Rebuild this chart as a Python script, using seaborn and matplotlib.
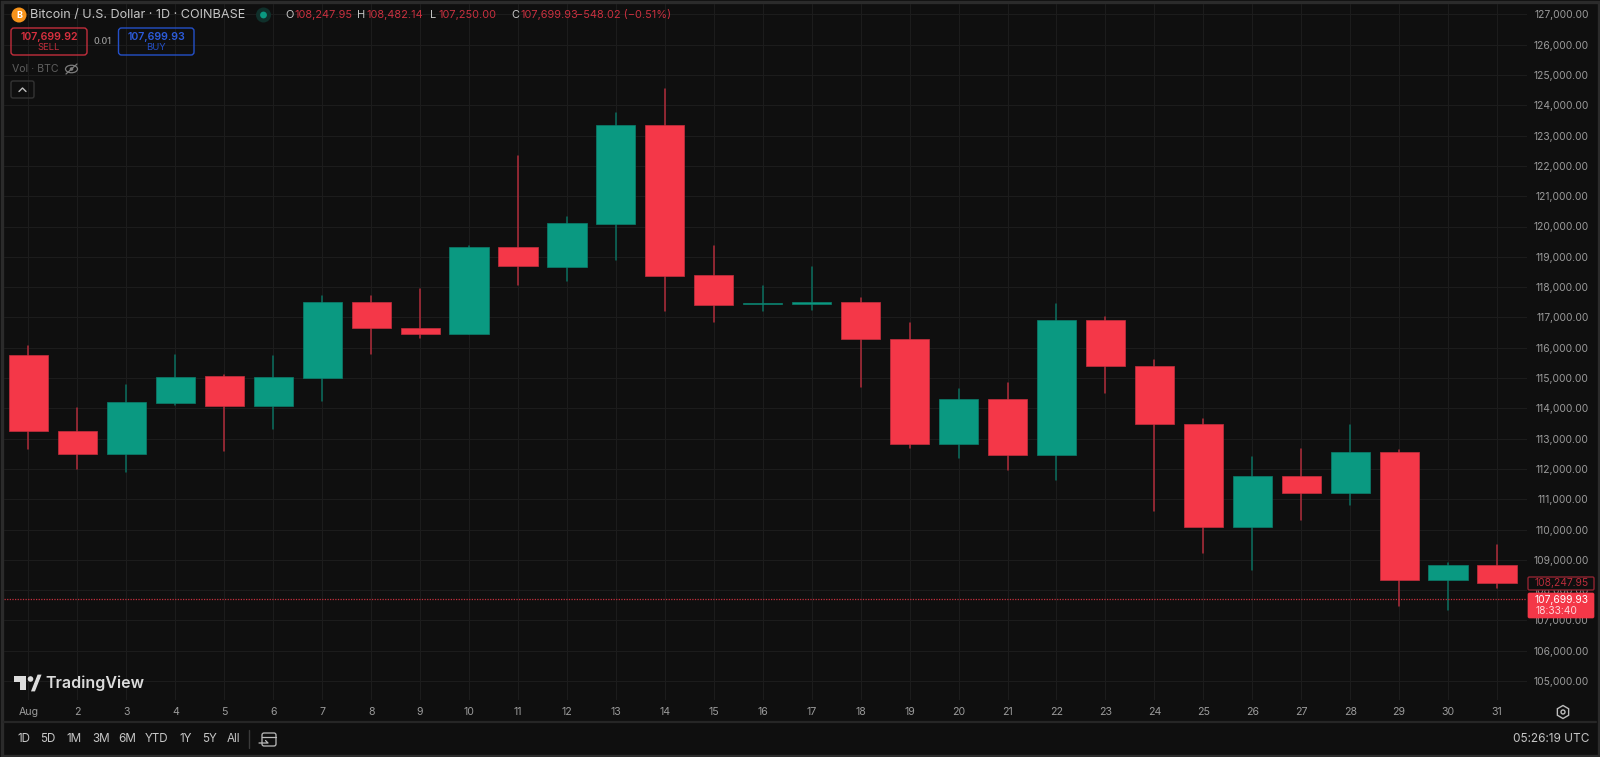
#!/usr/bin/env python3
"""BTC/USD daily candles, August, in a TradingView style dark layout."""

import matplotlib
matplotlib.use('Agg')
import matplotlib.pyplot as plt
from matplotlib.patches import Circle, Ellipse, FancyBboxPatch, Polygon, Rectangle, RegularPolygon
import pandas as pd
import seaborn as sns

# Chart data
days = list(range(1, 32))
opens = [115770, 113240, 112505, 114180, 115065, 114080, 115000, 117515, 116660, 116460, 119310,
         118675, 120090, 123365, 118395, 117430, 117440, 117505, 116295, 112835, 114295, 112475,
         116910, 115380, 113470, 110090, 111770, 111220, 112560, 108340, 108825]
closes = [113235, 112505, 114205, 115045, 114080, 115035, 117515, 116650, 116450, 119310, 118680,
          120120, 123365, 118365, 117405, 117470, 117500, 116290, 112835, 114295, 112475, 116910,
          115380, 113470, 110090, 111770, 111220, 112560, 108340, 108825, 108248]
highs = [116065, 114010, 114780, 115770, 115110, 115735, 117690, 117690, 117945, 119340, 122330,
         120330, 123745, 124540, 119340, 118035, 118650, 117650, 116815, 114650, 114835, 117440,
         117010, 115610, 113640, 112395, 112670, 113450, 112625, 108900, 109475]
lows = [112650, 111990, 111890, 114100, 112605, 113330, 114255, 115780, 116320, 116460, 118065,
        118185, 118910, 117210, 116845, 117210, 117240, 114715, 112700, 112365, 111965, 111650,
        114515, 110615, 109240, 108650, 110320, 110815, 107460, 107350, 108055]
price_ticks = list(range(105000, 128000, 1000))
day_labels = ['Aug'] + [str(d) for d in days[1:]]
range_buttons = ['1D', '5D', '1M', '3M', '6M', 'YTD', '1Y', '5Y', 'All']
range_button_x = [23.5, 48, 74, 101, 127.5, 157, 186, 210, 233.7]
last_price = 107699.93

# Colours
BG = '#0f0f0f'
GRID = '#1c1c1c'
FRAME = '#2b2b2b'
RED = '#f43748'
GREEN = '#0a9981'
RED_EDGE = '#c62f3e'
GREEN_EDGE = '#0b7f6c'
RED_WICK = '#b22c3b'
GREEN_WICK = '#0b6f5f'
TEXT = '#c6c6c6'
MUTED = '#9b9b9b'

# Pixel calibration of the plot area
AX_LEFT, AX_RIGHT, AX_TOP, AX_BOTTOM = 4, 1527, 4, 700
DAY1_X, DAY_W = 28.5, 48.95
P105_Y, PX_PER_K = 681.0, 30.3

sns.set_theme(style='dark')
plt.rcParams['font.family'] = ['Inter', 'DejaVu Sans']

fig = plt.figure(figsize=(16, 7.57), dpi=100, facecolor=BG)
ax = fig.add_axes([AX_LEFT / 1600, 1 - AX_BOTTOM / 757,
                   (AX_RIGHT - AX_LEFT) / 1600, (AX_BOTTOM - AX_TOP) / 757])
ax.set_facecolor(BG)

df = pd.DataFrame({'day': days, 'open': opens, 'close': closes, 'high': highs, 'low': lows})
df['dir'] = ['up' if c >= o else 'down' for o, c in zip(opens, closes)]

# Wicks
wicks = df.melt(id_vars=['day', 'dir'], value_vars=['low', 'high'], value_name='price')
sns.lineplot(data=wicks, x='day', y='price', hue='dir', units='day', estimator=None,
             palette={'up': GREEN_WICK, 'down': RED_WICK}, lw=1.1, legend=False, ax=ax, zorder=3)

# Bodies
for direction, colour, edge in [('up', GREEN, GREEN_EDGE), ('down', RED, RED_EDGE)]:
    sub = df[df['dir'] == direction]
    body_low = sub[['open', 'close']].min(axis=1)
    body_high = sub[['open', 'close']].max(axis=1)
    ax.bar(sub['day'], body_high - body_low, bottom=body_low, width=0.8, color=colour,
           edgecolor=edge, linewidth=0.5, zorder=4)

ax.axhline(last_price, color='#c62f3e', lw=0.9, ls=(0, (1, 1.1)), zorder=5)

ax.set_xlim(1 + (AX_LEFT - DAY1_X) / DAY_W, 1 + (AX_RIGHT - DAY1_X) / DAY_W)
ax.set_ylim(105000 + (P105_Y - AX_BOTTOM) / PX_PER_K * 1000, 105000 + (P105_Y - AX_TOP) / PX_PER_K * 1000)
ax.set_xlabel('')
ax.set_ylabel('')
ax.set_xticks(days)
ax.set_xticklabels(day_labels)
ax.yaxis.tick_right()
ax.set_yticks(price_ticks)
ax.set_yticklabels([f'{p:,.2f}' for p in price_ticks], ha='right')
ax.tick_params(axis='x', length=0, pad=5, labelsize=7.6, labelcolor=MUTED)
ax.tick_params(axis='y', length=0, pad=44.5, labelsize=7.4, labelcolor=MUTED)
ax.grid(True, color=GRID, lw=0.8)
ax.set_axisbelow(True)
sns.despine(ax=ax, left=True, bottom=True, right=True, top=True)

# Everything around the chart is drawn in an overlay with pixel coordinates
ui = fig.add_axes([0, 0, 1, 1], zorder=10)
ui.set_xlim(0, 1600)
ui.set_ylim(757, 0)
ui.axis('off')
ui.patch.set_alpha(0)


def label(x, y, s, color=MUTED, size=8, ha='left', weight='normal'):
    ui.text(x, y, s, color=color, fontsize=size, ha=ha, va='center', fontweight=weight)


def box(x0, y0, x1, y1, edge, face='none', lw=1.0, radius=3):
    ui.add_patch(FancyBboxPatch((x0, y0), x1 - x0, y1 - y0,
                                boxstyle=f'round,pad=0,rounding_size={radius}',
                                fc=face, ec=edge, lw=lw))


# Outer frame and toolbar line
ui.add_patch(Rectangle((1.5, 1.5), 1597, 754, fc='none', ec=FRAME, lw=2.4))
ui.plot([4, 1596], [722, 722], color='#262626', lw=1.6)

# Header
ui.add_patch(Circle((19, 15), 7.5, fc='#f7931a', ec='none'))
label(19, 15, 'B', color='#ffffff', size=6.5, ha='center', weight='bold')
label(30, 15, 'Bitcoin / U.S. Dollar · 1D · COINBASE', color=TEXT, size=9.1)
ui.add_patch(Circle((263.5, 15), 7.5, fc='#10302b', ec='none'))
ui.add_patch(Circle((263.5, 15), 3.4, fc=GREEN, ec='none'))
for lx, letter, vx, value in [(285, 'O', 294, '108,247.95'), (357, 'H', 366, '108,482.14'),
                              (430, 'L', 438, '107,250.00'), (511, 'C', 520, '107,699.93')]:
    label(lx, 15, letter, color=TEXT, size=7.9)
    label(vx, 15, value, color='#c9303f', size=7.9)
label(576, 15, '−548.02 (−0.51%)', color='#c9303f', size=7.9)

# Sell / buy
box(11, 28, 87, 55, '#c22e3c')
label(49, 36.5, '107,699.92', color='#d8303f', size=7.6, ha='center', weight='semibold')
label(49, 47.5, 'SELL', color='#c22e3c', size=6.8, ha='center')
label(102, 42, '0.01', color=MUTED, size=6.4, ha='center', weight='medium')
box(118.5, 28, 194, 55, '#2450c8')
label(156, 36.5, '107,699.93', color='#2c5bdc', size=7.6, ha='center', weight='semibold')
label(156, 47.5, 'BUY', color='#2450c8', size=6.8, ha='center')

# Vol row and collapse button
label(12, 69, 'Vol · BTC', color='#5e5e5e', size=7.6)
ui.add_patch(Ellipse((71.5, 69), 12, 7.5, fc='none', ec='#7c7c7c', lw=0.9))
ui.add_patch(Circle((71.5, 69), 1.8, fc='#7c7c7c', ec='none'))
ui.plot([66, 77], [74, 64], color='#7c7c7c', lw=0.9)
box(11, 81, 34, 98, '#333333', radius=2)
ui.plot([19, 22.5, 26], [91.5, 88, 91.5], color='#bdbdbd', lw=1)

# Price labels on the axis
box(1528, 577, 1594, 590, '#8f2431', face=BG, lw=1, radius=1.5)
label(1589, 583.5, '108,247.95', color='#b92c3b', size=7.4, ha='right')
box(1528, 593, 1594, 618, RED, face=RED, lw=0.5, radius=1.5)
label(1589, 600, '107,699.93', color='#ffffff', size=7.4, ha='right')
label(1536, 611, '18:33:40', color='#ffd5da', size=7.4)

# TradingView logo
ui.add_patch(Polygon([(14, 676), (26, 676), (26, 690), (20, 690), (20, 682), (14, 682)], fc='#dcdcdc', ec='none'))
ui.add_patch(Circle((30.5, 679), 2.8, fc='#dcdcdc', ec='none'))
ui.add_patch(Polygon([(33, 690), (38.5, 676), (39.5, 676), (34, 690)], fc='#dcdcdc', ec='#dcdcdc', lw=2))
label(45, 683, 'TradingView', color='#dcdcdc', size=11.5, weight='semibold')

# Settings icon
ui.add_patch(RegularPolygon((1563, 712), 6, radius=6.5, fc='none', ec='#bdbdbd', lw=1))
ui.add_patch(Circle((1563, 712), 2, fc='none', ec='#bdbdbd', lw=1))

# Bottom toolbar
for bx, name in zip(range_button_x, range_buttons):
    label(bx, 739.5, name, color=TEXT, size=8.4, ha='center')
ui.plot([249, 249], [730, 748], color='#3a3a3a', lw=1)
box(262, 733, 276, 746, '#bdbdbd', radius=2, lw=0.9)
ui.plot([262, 276], [737, 737], color='#bdbdbd', lw=0.9)
ui.plot([259, 268, 265.5], [743, 743, 740.5], color='#bdbdbd', lw=0.9)
label(1589, 739.5, '05:26:19 UTC', color=TEXT, size=8.5, ha='right')

fig.savefig('out.png', dpi=100, facecolor=BG)
